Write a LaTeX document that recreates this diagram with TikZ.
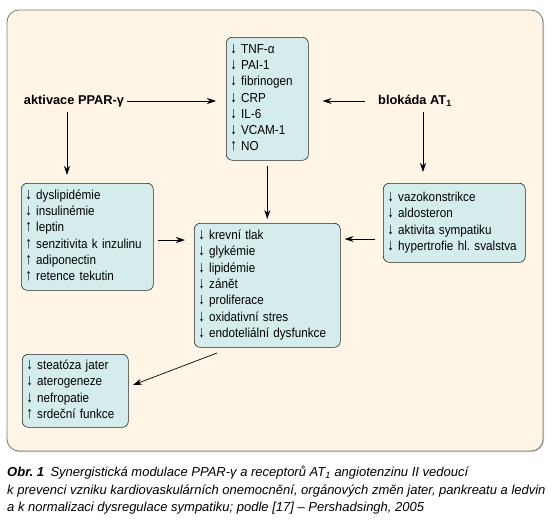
\documentclass[tikz,border=0pt]{standalone}
\usepackage{graphicx}
\usepackage{fontspec}
\setmainfont{Liberation Sans}
\newfontfamily\boxfont[FakeStretch=0.9]{Liberation Sans}
\usetikzlibrary{arrows.meta,shadows}
\frenchspacing

\definecolor{cream}{HTML}{FEF5E7}
\definecolor{boxfill}{HTML}{D5ECED}
\definecolor{outerline}{HTML}{7A7A7A}

\tikzset{
  infobox/.style={draw=black!85, fill=boxfill, rounded corners=6pt, line width=0.6pt,
    anchor=north west, align=left, inner xsep=4pt, inner ysep=0pt,
    font=\boxfont\fontsize{13}{16.3}\selectfont},
  lbl/.style={inner sep=0pt, font=\fontsize{12.8}{16}\selectfont\bfseries},
  conn/.style={-{Stealth[length=9pt,width=6pt]}, line width=0.7pt},
  captxt/.style={inner sep=0pt, anchor=base west, font=\fontsize{13}{15}\selectfont\itshape},
}
\newcommand{\lines}[1]{\begin{tabular}{@{}l@{}}#1\end{tabular}}
\newcommand{\arrdn}{\scalebox{1.12}[1.25]{↓}\ }
\newcommand{\arrup}{\scalebox{1.12}[1.25]{↑}\ }

\begin{document}
\begin{tikzpicture}[x=1pt,y=-1pt]
\useasboundingbox (0,0) rectangle (554,525);

% outer panel
\draw[fill=cream, draw=outerline, line width=0.8pt, rounded corners=12pt,
      drop shadow={shadow xshift=1pt, shadow yshift=-1pt, fill=black!45}]
      (7,10) rectangle (543,451);

% boxes
\node[infobox, minimum width=82pt, minimum height=123pt, text width=74pt] (top) at (226,37)
  {\lines{\arrdn TNF-α\\ \arrdn PAI-1\\ \arrdn fibrinogen\\ \arrdn CRP\\ \arrdn IL-6\\ \arrdn VCAM-1\\ \arrup NO}};
\node[infobox, minimum width=132pt, minimum height=107pt, text width=124pt] (left) at (21,183)
  {\lines{\arrdn dyslipidémie\\ \arrdn insulinémie\\ \arrup leptin\\ \arrup senzitivita k inzulinu\\ \arrup adiponectin\\ \arrup retence tekutin}};
\node[infobox, minimum width=146pt, minimum height=124pt, text width=138pt] (center) at (194,223)
  {\lines{\arrdn krevní tlak\\ \arrdn glykémie\\ \arrdn lipidémie\\ \arrdn zánět\\ \arrdn proliferace\\ \arrdn oxidativní stres\\ \arrdn endoteliální dysfunkce}};
\node[infobox, minimum width=142pt, minimum height=79pt, text width=134pt] (right) at (383,183)
  {\lines{\arrdn vazokonstrikce\\ \arrdn aldosteron\\ \arrdn aktivita sympatiku\\ \arrdn hypertrofie hl. svalstva}};
\node[infobox, minimum width=106pt, minimum height=73pt, text width=98pt] (bottom) at (22,354)
  {\lines{\arrdn steatóza jater\\ \arrdn aterogeneze\\ \arrdn nefropatie\\ \arrup srdeční funkce}};

% labels
\node[lbl] (ppar) at (74,101) {aktivace PPAR-γ};
\node[lbl] (blok) at (415,101) {blokáda AT\textsubscript{1}};

% helper coordinates
\coordinate (pd) at (67,112);
\coordinate (bd) at (423,112);
\coordinate (lc) at (0,240);
\coordinate (rc) at (0,239);
\coordinate (cb) at (217,353);
\coordinate (bb) at (133,385);

% connectors
\draw[conn, shorten <=3pt, shorten >=10pt] (ppar.east) -- (top.west |- ppar.east);
\draw[conn, shorten <=13pt, shorten >=14pt] (blok.west) -- (top.east |- blok.west);
\draw[conn, shorten >=8pt] (pd) -- (pd |- left.north);
\draw[conn, shorten >=11pt] (bd) -- (bd |- right.north);
\draw[conn, shorten <=5pt, shorten >=4pt] (top.south) -- (top.south |- center.north);
\draw[conn, shorten <=4pt, shorten >=9pt] (left.east |- lc) -- (center.west |- lc);
\draw[conn, shorten <=8pt, shorten >=4pt] (right.west |- rc) -- (center.east |- rc);
\draw[conn] (cb) -- (bb);

% caption
\node[captxt] (cap1) at (7,476) {\textbf{Obr. 1}\enspace Synergistická modulace PPAR-γ a receptorů AT\textsubscript{1} angiotenzinu II vedoucí};
\node[captxt] (cap2) at (7,494) {k prevenci vzniku kardiovaskulárních onemocnění, orgánových změn jater, pankreatu a ledvin};
\node[captxt] (cap3) at (7,511) {a k normalizaci dysregulace sympatiku; podle [17] – Pershadsingh, 2005};
\end{tikzpicture}
\end{document}
